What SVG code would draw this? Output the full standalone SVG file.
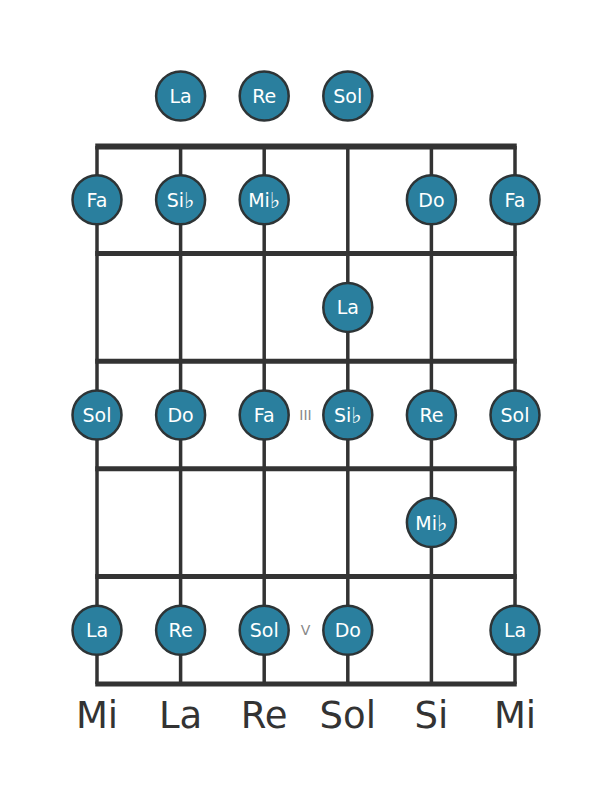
<svg xmlns="http://www.w3.org/2000/svg" width="611" height="801" viewBox="0 0 611 801">
<style>
.str{stroke:#333;stroke-width:3.5;fill:none}
.fret{stroke:#333;stroke-width:5;fill:none}
.dot circle{fill:#2a7f9e;stroke:#2d3436;stroke-width:2.5}
.dot text{fill:#fff;font-family:"DejaVu Sans",sans-serif;font-size:19px;text-anchor:middle;dominant-baseline:central}
.fl{font-size:22px}
.mk{fill:#888;font-family:"DejaVu Sans",sans-serif;font-size:14px;text-anchor:middle;dominant-baseline:central}
.lab{fill:#333;font-family:"DejaVu Sans",sans-serif;font-size:37px;text-anchor:middle}
</style>
<rect width="611" height="801" fill="#fff"/>
<g id="connectors">
<line class="str" x1="97" y1="146" x2="97" y2="684"/>
<line class="str" x1="180.6" y1="146" x2="180.6" y2="684"/>
<line class="str" x1="264.2" y1="146" x2="264.2" y2="684"/>
<line class="str" x1="347.8" y1="146" x2="347.8" y2="684"/>
<line class="str" x1="431.4" y1="146" x2="431.4" y2="684"/>
<line class="str" x1="515" y1="146" x2="515" y2="684"/>
<line class="fret" x1="95.25" y1="146.5" x2="516.75" y2="146.5" style="stroke-width:6"/>
<line class="fret" x1="95.25" y1="253.6" x2="516.75" y2="253.6"/>
<line class="fret" x1="95.25" y1="361.2" x2="516.75" y2="361.2"/>
<line class="fret" x1="95.25" y1="468.8" x2="516.75" y2="468.8"/>
<line class="fret" x1="95.25" y1="576.4" x2="516.75" y2="576.4"/>
<line class="fret" x1="95.25" y1="684" x2="516.75" y2="684"/>
</g>
<g id="markers">
<text class="mk" x="305.5" y="415">III</text>
<text class="mk" x="305.5" y="630">V</text>
</g>
<g id="open-La" class="dot"><circle cx="180.6" cy="96" r="24.5"/><text x="180.6" y="96">La</text></g>
<g id="open-Re" class="dot"><circle cx="264.2" cy="96" r="24.5"/><text x="264.2" y="96">Re</text></g>
<g id="open-Sol" class="dot"><circle cx="347.8" cy="96" r="24.5"/><text x="347.8" y="96">Sol</text></g>

<g id="f1-Fa1" class="dot"><circle cx="97" cy="199.8" r="24.5"/><text x="97" y="199.8">Fa</text></g>
<g id="f1-Sib" class="dot"><circle cx="180.6" cy="199.8" r="24.5"/><text x="180.6" y="199.8">Si<tspan class="fl">♭</tspan></text></g>
<g id="f1-Mib" class="dot"><circle cx="264.2" cy="199.8" r="24.5"/><text x="264.2" y="199.8">Mi<tspan class="fl">♭</tspan></text></g>
<g id="f1-Do" class="dot"><circle cx="431.4" cy="199.8" r="24.5"/><text x="431.4" y="199.8">Do</text></g>
<g id="f1-Fa2" class="dot"><circle cx="515" cy="199.8" r="24.5"/><text x="515" y="199.8">Fa</text></g>

<g id="f2-La" class="dot"><circle cx="347.8" cy="307.4" r="24.5"/><text x="347.8" y="307.4">La</text></g>

<g id="f3-Sol1" class="dot"><circle cx="97" cy="415" r="24.5"/><text x="97" y="415">Sol</text></g>
<g id="f3-Do" class="dot"><circle cx="180.6" cy="415" r="24.5"/><text x="180.6" y="415">Do</text></g>
<g id="f3-Fa" class="dot"><circle cx="264.2" cy="415" r="24.5"/><text x="264.2" y="415">Fa</text></g>
<g id="f3-Sib" class="dot"><circle cx="347.8" cy="415" r="24.5"/><text x="347.8" y="415">Si<tspan class="fl">♭</tspan></text></g>
<g id="f3-Re" class="dot"><circle cx="431.4" cy="415" r="24.5"/><text x="431.4" y="415">Re</text></g>
<g id="f3-Sol2" class="dot"><circle cx="515" cy="415" r="24.5"/><text x="515" y="415">Sol</text></g>

<g id="f4-Mib" class="dot"><circle cx="431.4" cy="522.6" r="24.5"/><text x="431.4" y="522.6">Mi<tspan class="fl">♭</tspan></text></g>

<g id="f5-La1" class="dot"><circle cx="97" cy="630.2" r="24.5"/><text x="97" y="630.2">La</text></g>
<g id="f5-Re" class="dot"><circle cx="180.6" cy="630.2" r="24.5"/><text x="180.6" y="630.2">Re</text></g>
<g id="f5-Sol" class="dot"><circle cx="264.2" cy="630.2" r="24.5"/><text x="264.2" y="630.2">Sol</text></g>
<g id="f5-Do" class="dot"><circle cx="347.8" cy="630.2" r="24.5"/><text x="347.8" y="630.2">Do</text></g>
<g id="f5-La2" class="dot"><circle cx="515" cy="630.2" r="24.5"/><text x="515" y="630.2">La</text></g>

<g id="labels">
<text class="lab" x="97" y="727.5">Mi</text>
<text class="lab" x="180.6" y="727.5">La</text>
<text class="lab" x="264.2" y="727.5">Re</text>
<text class="lab" x="347.8" y="727.5">Sol</text>
<text class="lab" x="431.4" y="727.5">Si</text>
<text class="lab" x="515" y="727.5">Mi</text>
</g>
</svg>
